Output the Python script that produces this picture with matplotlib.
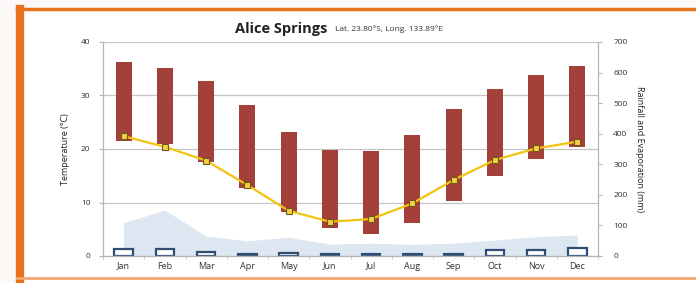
import numpy as np
import matplotlib
matplotlib.use("Agg")
import matplotlib.pyplot as plt
from matplotlib.patches import Rectangle

months = ['Jan', 'Feb', 'Mar', 'Apr', 'May', 'Jun',
          'Jul', 'Aug', 'Sep', 'Oct', 'Nov', 'Dec']

# temperature (left axis, deg C)
temp_max = [36.3, 35.2, 32.8, 28.2, 23.2, 19.8, 19.7, 22.7, 27.4, 31.2, 33.8, 35.5]
temp_min = [21.5, 20.9, 17.6, 12.7, 8.3, 5.2, 4.1, 6.1, 10.3, 15.0, 18.1, 20.3]

# right axis (mm)
evaporation = [392, 357, 312, 232, 148, 112, 121, 172, 249, 314, 352, 374]
rain_area = [109, 150, 65, 50, 61, 39, 42, 38, 42, 52, 63, 69]
rain_bars = [22, 22, 14, 7, 10, 7, 7, 6, 6, 20, 20, 27]

x = np.arange(len(months))

plt.rcParams['font.family'] = ['Open Sans', 'DejaVu Sans']

fig = plt.figure(figsize=(6.96, 2.83), dpi=100)
fig.patch.set_facecolor('#fbf9f7')

# orange frame round the chart
fig.patches.append(Rectangle((17/696, -0.05), 1.0, 1 - 9/283 + 0.05,
                             transform=fig.transFigure, facecolor='white',
                             edgecolor='none', zorder=-5))
fig.add_artist(plt.Line2D([17/696, 1], [1 - 9/283, 1 - 9/283],
                          transform=fig.transFigure, color='#e8731f', lw=2.5))
fig.add_artist(plt.Line2D([20/696, 20/696], [0, 1 - 9/283],
                          transform=fig.transFigure, color='#e8731f', lw=6))
fig.add_artist(plt.Line2D([17/696, 1], [5/283, 5/283],
                          transform=fig.transFigure, color='#f4a672', lw=2))

ax = fig.add_axes([103/696, 27/283, 495/696, 214/283])
ax2 = ax.twinx()

# right axis: rainfall area, rainfall bars
ax2.fill_between(x, rain_area, 0, color='#dde7f2', lw=0, zorder=1)
ax2.bar(x, rain_bars, width=0.45, facecolor='white', edgecolor='#2f4d74',
        lw=1.6, zorder=2)

# temperature range bars on left axis
ax.bar(x, np.array(temp_max) - np.array(temp_min), bottom=temp_min,
       width=0.39, color='#a3403a', zorder=3)

# evaporation (mm) scaled onto the top axes so it sits over the bars
evap_scaled = np.array(evaporation) * 40 / 700
ax.plot(x, evap_scaled, color='#f1c40f', lw=1.6, zorder=4)
ax.plot(x, evap_scaled, ls='none', marker='s', ms=3.8,
        mfc='#f4d03f', mec='#6b5a1a', mew=0.8, zorder=5)

ax2.set_zorder(1)
ax.set_zorder(2)
ax.patch.set_visible(False)
ax2.patch.set_visible(False)

ax.set_xlim(-0.5, 11.5)
ax.set_ylim(0, 40)
ax2.set_ylim(0, 700)
ax.set_yticks([0, 10, 20, 30, 40])
ax2.set_yticks(range(0, 701, 100))
ax.set_xticks(x)
ax.set_xticklabels(months)
ax.set_xticks(np.arange(-0.5, 12, 1), minor=True)

for a in (ax, ax2):
    a.spines['top'].set_visible(False)
    for s in ('left', 'right', 'bottom'):
        a.spines[s].set_color('#b5b5b5')
        a.spines[s].set_linewidth(0.8)
ax.yaxis.grid(True, color='#c4c4c4', lw=0.9, zorder=0)

ax.tick_params(axis='x', which='major', length=0, labelsize=6.5,
               colors='#333333', pad=4)
ax.tick_params(axis='x', which='minor', length=2.5, color='#e0b0a8')
ax.tick_params(axis='y', length=3, color='#b5b5b5', labelsize=6,
               labelcolor='#333333', pad=6)
ax2.tick_params(axis='y', length=3, color='#b5b5b5', labelsize=6,
                labelcolor='#333333', pad=8)

ax.set_ylabel('Temperature (°C)', fontsize=6.5, color='#222222', labelpad=8)
ax2.set_ylabel('Rainfall and Evaporation (mm)', fontsize=6.5, color='#222222',
               rotation=270, labelpad=12)

fig.text(327/696, 1 - 29/283, 'Alice Springs', fontsize=10.5, fontweight='bold',
         ha='right', va='center', color='#222222')
fig.text(335/696, 1 - 29/283, 'Lat. 23.80°S, Long. 133.89°E', fontsize=6,
         ha='left', va='center', color='#333333')

plt.savefig('out.png', dpi=100, facecolor=fig.get_facecolor())
